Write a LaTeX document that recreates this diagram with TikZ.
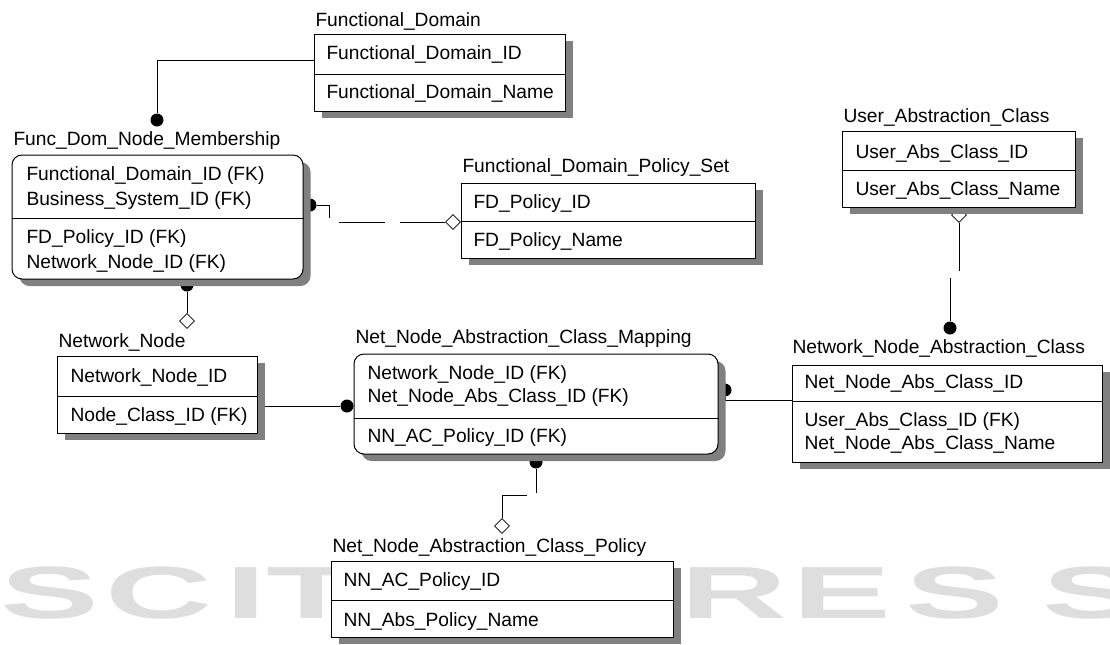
\documentclass[tikz,border=0pt]{standalone}
\usepackage{fontspec}
\setmainfont{Liberation Sans}
\usetikzlibrary{shapes.geometric,shadows,fit,backgrounds}

\newcommand\erfont{\fontsize{9.6}{11}\selectfont}

\tikzset{
  entity/.style={draw, fill=white, inner sep=0pt,
    drop shadow={shadow xshift=3.75pt, shadow yshift=-3.5pt, opacity=1, fill=black!50}},
  depentity/.style={entity, rounded corners=5pt},
  attr/.style={anchor=base west, inner sep=0pt, font=\erfont},
  dot/.style={circle, fill=black, inner sep=0pt, minimum size=6.5pt},
  nonid/.style={diamond, draw, fill=white, inner sep=0pt, minimum width=7.5pt, minimum height=7.5pt},
  wmark/.style={text=black!13, font=\fontsize{37}{37}\selectfont\bfseries, anchor=base west, inner sep=0pt, xscale=2},
}

\begin{document}
\begin{tikzpicture}[x=0.5pt,y=-0.5pt,line width=0.5pt]
  \useasboundingbox (0,0) rectangle (1110,644);

  % entities
  \node[entity, fit={(314,34) (565,111)}] (fd) {};
  \node[depentity, fit={(12,155) (303,279)}] (fdnm) {};
  \node[entity, fit={(461,183) (755,258)}] (fdps) {};
  \node[entity, fit={(842,131) (1075,207)}] (uac) {};
  \node[entity, fit={(57,356) (257,433)}] (nn) {};
  \node[depentity, fit={(354,354) (718,454)}] (nnam) {};
  \node[entity, fit={(792,365) (1102,462)}] (nnac) {};
  \node[entity, fit={(331,561) (673,637)}] (nnacp) {};

  \draw (fd.west |- 0,74) -- (fd.east |- 0,74);
  \draw (fdnm.west |- 0,218) -- (fdnm.east |- 0,218);
  \draw (fdps.west |- 0,221) -- (fdps.east |- 0,221);
  \draw (uac.west |- 0,170) -- (uac.east |- 0,170);
  \draw (nn.west |- 0,396) -- (nn.east |- 0,396);
  \draw (nnam.west |- 0,418) -- (nnam.east |- 0,418);
  \draw (nnac.west |- 0,401) -- (nnac.east |- 0,401);
  \draw (nnacp.west |- 0,600) -- (nnacp.east |- 0,600);

  % titles and attributes
  \node[attr] (fdt) at (315,26) {Functional\_Domain};
  \foreach \y/\t in {59/Functional\_Domain\_ID, 98/Functional\_Domain\_Name}
    \node[attr] at (326,\y) {\t};
  \node[attr] (fdnmt) at (13,145) {Func\_Dom\_Node\_Membership};
  \foreach \y/\t in {180/Functional\_Domain\_ID (FK), 205/Business\_System\_ID (FK),
                     243/FD\_Policy\_ID (FK), 268/Network\_Node\_ID (FK)}
    \node[attr] at (26,\y) {\t};
  \node[attr] (fdpst) at (462,172) {Functional\_Domain\_Policy\_Set};
  \foreach \y/\t in {208/FD\_Policy\_ID, 246/FD\_Policy\_Name}
    \node[attr] at (473,\y) {\t};
  \node[attr] (uact) at (843,122) {User\_Abstraction\_Class};
  \foreach \y/\t in {158/User\_Abs\_Class\_ID, 195/User\_Abs\_Class\_Name}
    \node[attr] at (855,\y) {\t};
  \node[attr] (nnt) at (58,347) {Network\_Node};
  \foreach \y/\t in {382/Network\_Node\_ID, 421/Node\_Class\_ID (FK)}
    \node[attr] at (70,\y) {\t};
  \node[attr] (nnamt) at (355,343) {Net\_Node\_Abstraction\_Class\_Mapping};
  \foreach \y/\t in {379/Network\_Node\_ID (FK), 402/Net\_Node\_Abs\_Class\_ID (FK),
                     442/NN\_AC\_Policy\_ID (FK)}
    \node[attr] at (367,\y) {\t};
  \node[attr] (nnact) at (792,353) {Network\_Node\_Abstraction\_Class};
  \foreach \y/\t in {388/Net\_Node\_Abs\_Class\_ID, 426/User\_Abs\_Class\_ID (FK),
                     449/Net\_Node\_Abs\_Class\_Name}
    \node[attr] at (804,\y) {\t};
  \node[attr] (nnacpt) at (332,552) {Net\_Node\_Abstraction\_Class\_Policy};
  \foreach \y/\t in {586/NN\_AC\_Policy\_ID, 626/NN\_Abs\_Policy\_Name}
    \node[attr] at (343,\y) {\t};

  \begin{scope}[on background layer]
    % watermark (the letters behind the policy box are hidden)
    \foreach \x/\l in {0/S, 105/C, 225/I, 266/T, 680/R, 792/E, 905/S, 1042/S}
      \node[wmark] at (\x,618) {\l};

    % relationships
    \node[dot] (fdd) at (157,120) {};
    \draw (fd.west |- 0,60) -| (fdd);

    \node[dot] (fdnmd) at (310,205) {};
    \node[nonid] (fdpsd) at (453,222) {};
    \draw[dash pattern=on 12.25pt off 7.5pt on 23pt off 7.5pt on 40pt]
      (fdnmd.east) -- ++(12,0) |- (fdpsd.west);

    \node[dot] (fdnmb) at (187,285) {};
    \node[nonid] (nnd) at (187,321) {};
    \draw (fdnmb) -- (nnd);

    \node[dot] (nnamd) at (347,406) {};
    \draw (nn.east |- 0,406) -- (nnamd);

    \node[dot] (nnamb) at (536,462) {};
    \node[nonid] (nnacpd) at (502,526) {};
    \draw[dash pattern=on 12pt off 5.5pt on 60pt]
      (nnamb.south) -- ++(0,26) -| (nnacpd.north);

    \node[nonid] (uacd) at (959,215) {};
    \node[dot] (nnacd) at (950,328) {};
    \draw (uacd.south) -- ++(0,48) ++(-9,7) -- (nnacd.north);

    \node[dot] (nnamr) at (725,390) {};
    \draw (nnamr) |- (nnac.west |- 0,400);
  \end{scope}
\end{tikzpicture}
\end{document}
